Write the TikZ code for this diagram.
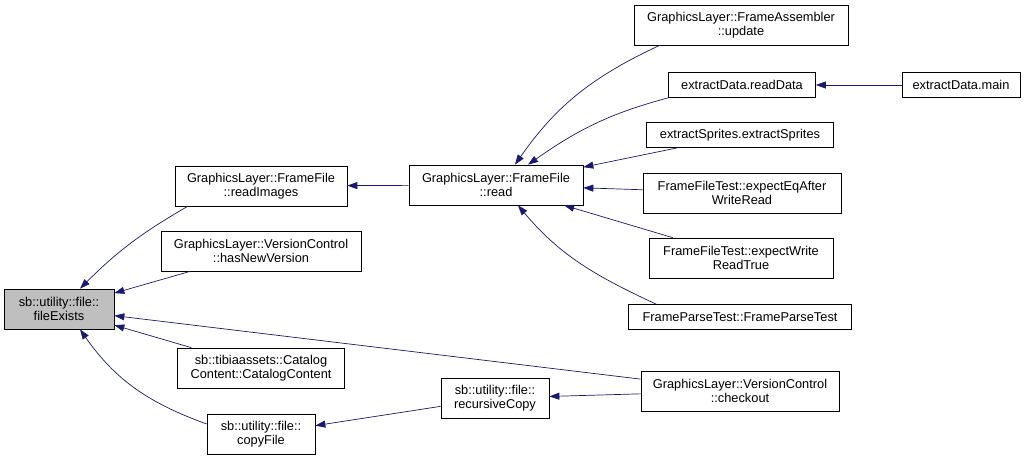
\documentclass[tikz,border=0pt]{standalone}
\usepackage{fontspec}
\setmainfont{Liberation Sans}
\usetikzlibrary{arrows.meta}
\definecolor{edgeblue}{RGB}{25,25,112}

\begin{document}
\begin{tikzpicture}[x=1pt, y=-1pt,
    fn/.style={draw=black, line width=0.7pt, fill=white, inner sep=0pt, minimum height=40pt, align=center, font=\fontsize{12.8}{14.5}\selectfont},
    fnone/.style={fn, minimum height=25pt},
    root/.style={fn, fill=gray!50},
    call/.style={draw=edgeblue, line width=0.7pt, -{Triangle[length=10pt,width=7pt]}}
  ]
  \useasboundingbox (0,0) rectangle (1029,460);

  % Root function
  \node[root, minimum width=110pt] (fe) at (59,309) {sb::utility::file::\\fileExists};

  % Direct callers
  \node[fn, minimum width=172pt] (ri) at (261,186) {GraphicsLayer::FrameFile\\::readImages};
  \node[fn, minimum width=200pt] (hnv) at (261,251) {GraphicsLayer::VersionControl\\::hasNewVersion};
  \node[fn, minimum width=167pt] (cc) at (261,368) {sb::tibiaassets::Catalog\\Content::CatalogContent};
  \node[fn, minimum width=108pt] (cf) at (261,434) {sb::utility::file::\\copyFile};

  % Second level
  \node[fn, minimum width=174pt] (rd) at (496,185) {GraphicsLayer::FrameFile\\::read};
  \node[fn, minimum width=108pt] (rc) at (495,398) {sb::utility::file::\\recursiveCopy};

  % Outer callers
  \node[fn, minimum width=214pt] (fa) at (741,25) {GraphicsLayer::FrameAssembler\\::update};
  \node[fnone, minimum width=147pt] (rdd) at (742,85) {extractData.readData};
  \node[fnone, minimum width=118pt] (edm) at (961,85) {extractData.main};
  \node[fnone, minimum width=187pt] (es) at (740,135) {extractSprites.extractSprites};
  \node[fn, minimum width=198pt] (eqa) at (742,193) {FrameFileTest::expectEqAfter\\WriteRead};
  \node[fn, minimum width=184pt] (ewr) at (741,258) {FrameFileTest::expectWrite\\ReadTrue};
  \node[fnone, minimum width=223pt] (fpt) at (740,317) {FrameParseTest::FrameParseTest};
  \node[fn, minimum width=198pt] (co) at (740,391) {GraphicsLayer::VersionControl\\::checkout};

  % Calls into fileExists
  \draw[call] ([xshift=13pt]ri.south west) to[out=210, in=45] ([xshift=21pt]fe.north);
  \draw[call] (hnv) -- (fe);
  \draw[call] (co) -- (fe);
  \draw[call] (cc) -- (fe);
  \draw[call] ([yshift=10pt]cf.west) to[out=160, in=-55] ([xshift=21pt]fe.south);

  % Calls into read
  \draw[call] (rd) -- (ri);
  \draw[call] ([xshift=26pt]fa.south west) to[out=205, in=55] ([xshift=19pt]rd.north);
  \draw[call] (rdd.south west) to[out=195, in=35] ([xshift=32pt]rd.north);
  \draw[call] (es) -- (rd);
  \draw[call] (eqa) -- (rd);
  \draw[call] (ewr) -- (rd);
  \draw[call] ([xshift=28pt]fpt.north west) to[out=155, in=-50] ([xshift=22pt]rd.south);

  % Remaining calls
  \draw[call] (edm) -- (rdd);
  \draw[call] (rc) -- (cf);
  \draw[call] (co) -- (rc);
\end{tikzpicture}
\end{document}
